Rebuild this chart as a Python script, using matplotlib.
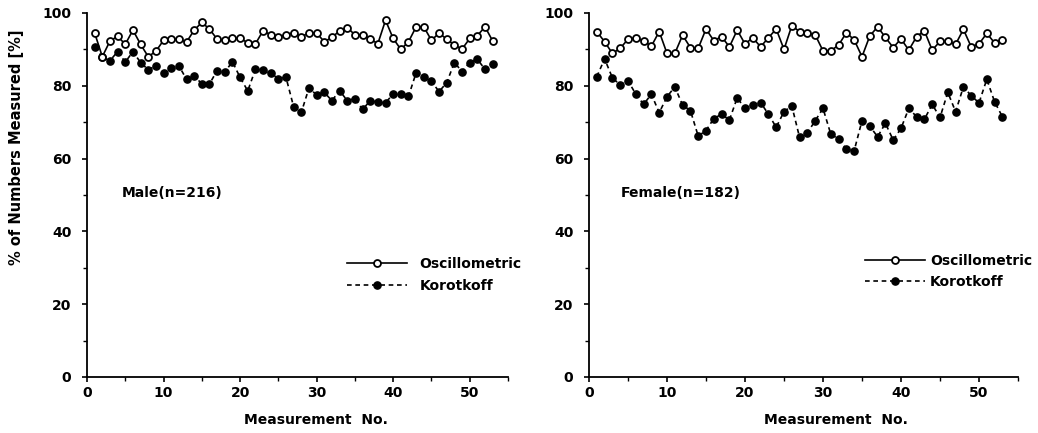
import matplotlib
matplotlib.use("Agg")
import matplotlib.pyplot as plt
from matplotlib.ticker import FixedLocator, MultipleLocator

plt.rcParams['font.family'] = ['DejaVu Sans']
plt.rcParams['font.weight'] = 'bold'

measurement = list(range(1, 54))

male_osc = [94.5, 88.0, 92.3, 93.6, 91.4, 95.3, 91.4, 88.0, 89.5, 92.5,
            92.8, 92.8, 92.0, 95.3, 97.4, 95.6, 92.8, 92.5, 93.1, 93.1,
            91.8, 91.5, 95.1, 94.0, 93.5, 94.0, 94.6, 93.5, 94.5, 94.5,
            92.1, 93.3, 95.1, 96.0, 94.0, 94.0, 92.8, 91.6, 98.0, 93.0,
            90.0, 92.1, 96.2, 96.2, 92.5, 94.5, 92.8, 91.2, 90.1, 93.0,
            93.8, 96.2, 92.3]
male_kor = [90.7, 87.8, 86.9, 89.4, 86.5, 89.4, 86.4, 84.4, 85.5, 83.5,
            84.8, 85.5, 81.8, 82.8, 80.5, 80.5, 84.2, 83.8, 86.6, 82.3,
            78.6, 84.5, 84.4, 83.4, 82.0, 82.3, 74.2, 72.7, 79.4, 77.5,
            78.2, 75.9, 78.7, 75.9, 76.5, 73.5, 75.9, 75.5, 75.3, 77.8,
            77.8, 77.1, 83.6, 82.4, 81.2, 78.4, 80.9, 86.4, 83.9, 86.4,
            87.3, 84.5, 86.0]
female_osc = [94.9, 92.1, 88.9, 90.3, 92.8, 93.2, 92.3, 90.9, 94.9, 88.9,
              88.9, 93.9, 90.5, 90.3, 95.6, 92.4, 93.5, 90.7, 95.3, 91.5,
              93.2, 90.7, 93.2, 95.6, 90.0, 96.5, 94.9, 94.5, 94.0, 89.6,
              89.6, 91.2, 94.6, 92.6, 88.0, 93.7, 96.2, 93.3, 90.5, 92.9,
              89.8, 93.5, 95.1, 89.8, 92.2, 92.2, 91.4, 95.5, 90.7, 91.5,
              94.4, 91.8, 92.7]
female_kor = [82.5, 87.4, 82.2, 80.2, 81.4, 77.7, 74.9, 77.7, 72.6, 77.0,
              79.7, 74.7, 73.2, 66.2, 67.7, 71.0, 72.2, 70.6, 76.7, 73.8,
              74.6, 75.4, 72.2, 68.6, 72.9, 74.5, 65.8, 67.1, 70.4, 73.8,
              66.7, 65.4, 62.6, 62.2, 70.4, 68.9, 66.0, 69.7, 65.1, 68.3,
              73.8, 71.5, 70.8, 74.9, 71.3, 78.2, 72.9, 79.7, 77.3, 75.3,
              81.8, 75.6, 71.5]

yticks = [0, 20, 40, 60, 80, 100]
ytick_labels = ["0", "20", "40", "60", "80", "100"]
xticks = [0, 10, 20, 30, 40, 50]
xtick_labels = ["0", "10", "20", "30", "40", "50"]
series_names = ["Oscillometric", "Korotkoff"]
panel_titles = ["Male(n=216)", "Female(n=182)"]
xlabel = "Measurement  No."
ylabel = "% of Numbers Measured [%]"

fig = plt.figure(figsize=(10.38, 4.33), dpi=100)
ax_l = fig.add_axes([87/1038, 1-377/433, 421/1038, 364/433])
ax_r = fig.add_axes([589/1038, 1-377/433, 429/1038, 364/433])

panels = [
    (ax_l, male_osc, male_kor, panel_titles[0], (4.6, 50.5), (0.618, 0.28), 0.544, 0.9),
    (ax_r, female_osc, female_kor, panel_titles[1], (4.1, 50.5), (0.644, 0.29), 0.576, 0.35),
]

for ax, osc, kor, title, tpos, legpos, xlx, tpad in panels:
    h_kor, = ax.plot(measurement, kor, color='black', lw=1.2,
                     linestyle=(0, (2.8, 2.2)), marker='o', markersize=5.2,
                     markerfacecolor='black', markeredgecolor='black',
                     clip_on=False, zorder=3, label=series_names[1])
    h_osc, = ax.plot(measurement, osc, color='black', lw=1.2, linestyle='-',
                     marker='o', markersize=5.0, markerfacecolor='white',
                     markeredgecolor='black', markeredgewidth=1.3,
                     clip_on=False, zorder=4, label=series_names[0])
    ax.set_xlim(0, 55)
    ax.set_ylim(0, 100)
    for s in ['top', 'right']:
        ax.spines[s].set_visible(False)
    for s in ['left', 'bottom']:
        ax.spines[s].set_linewidth(1.3)
    ax.yaxis.set_major_locator(FixedLocator(yticks))
    ax.set_yticklabels(ytick_labels)
    ax.yaxis.set_minor_locator(MultipleLocator(10))
    ax.xaxis.set_major_locator(FixedLocator(xticks))
    ax.set_xticklabels(xtick_labels)
    ax.xaxis.set_minor_locator(MultipleLocator(5))
    ax.tick_params(which='major', direction='out', length=3.8, width=1.2,
                   labelsize=10)
    ax.tick_params(which='minor', direction='out', length=3.0, width=1.0)
    ax.tick_params(axis='y', which='major', pad=7.5)
    ax.tick_params(axis='x', which='major', pad=2.5)
    ax.set_xlabel(xlabel, fontsize=10, fontweight='bold')
    ax.xaxis.set_label_coords(xlx, -0.10)
    ax.text(tpos[0], tpos[1], title, fontsize=10, fontweight='bold',
            ha='left', va='center')
    ax.legend(handles=[h_osc, h_kor], loc='center left', bbox_to_anchor=legpos,
              frameon=False, handlelength=4.3, handletextpad=tpad,
              labelspacing=0.55, borderpad=0, borderaxespad=0, numpoints=1,
              prop=dict(weight='bold', size=10))

fig.text(17/1038, 1-147/433, ylabel, rotation=90, ha='center', va='center',
         fontsize=10.5, fontweight='bold')

fig.savefig("out.png", dpi=100, facecolor='white')
